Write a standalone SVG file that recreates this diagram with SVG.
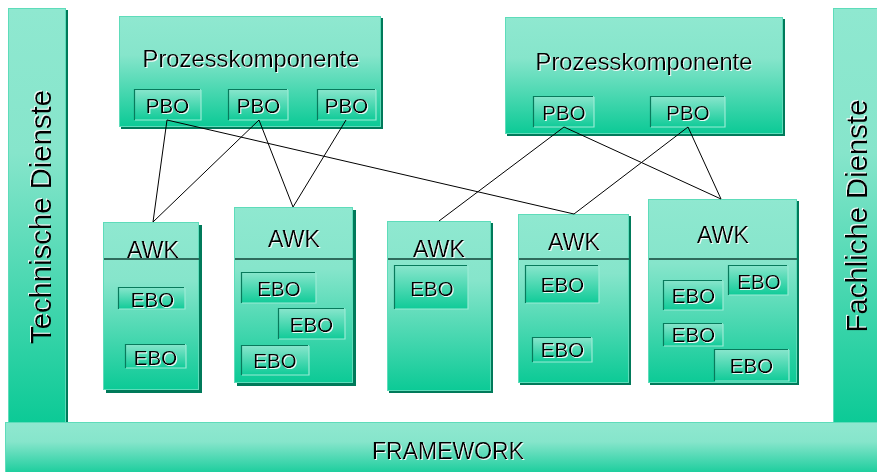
<svg xmlns="http://www.w3.org/2000/svg" width="877" height="472" viewBox="0 0 877 472">
<defs>
<linearGradient id="g" x1="0" y1="0" x2="0" y2="1">
<stop offset="0" stop-color="#8FE8D0"/>
<stop offset="0.35" stop-color="#86E5CB"/>
<stop offset="1" stop-color="#0CCA96"/>
</linearGradient>
<linearGradient id="gi" x1="0" y1="0" x2="0" y2="1">
<stop offset="0" stop-color="#8AE6CD"/>
<stop offset="1" stop-color="#10CB98"/>
</linearGradient>
<filter id="ts" x="-10%" y="-10%" width="130%" height="130%">
<feDropShadow dx="1" dy="1" stdDeviation="0" flood-color="#FFFFFF" flood-opacity="0.9"/>
</filter>
<filter id="tsr" x="-10%" y="-10%" width="130%" height="130%">
<feDropShadow dx="1" dy="-1" stdDeviation="0" flood-color="#FFFFFF" flood-opacity="0.9"/>
</filter>
</defs>
<style>
.sh{fill:#007A5A}
.box{fill:url(#g);stroke:#5EDCBA;stroke-width:1}
.in{fill:url(#gi)}
.dk{fill:none;stroke:#087A5C;stroke-width:1.2}
.lt{fill:none;stroke:#9AEBD5;stroke-width:1.2}
.div{stroke:#2E6B5C;stroke-width:2}
text{font-family:"Liberation Sans",Arial,sans-serif;fill:#000;text-anchor:middle;filter:url(#ts)}
.t1{font-size:23.8px}
.awk{font-size:23.3px}
.obj{font-size:20.5px}
.side{font-size:29.3px;filter:url(#tsr)}
.fw{font-size:23px}
.con line{stroke:#000;stroke-width:1}
</style>

<g id="technische-dienste">
<rect class="sh" x="10" y="10" width="58" height="412"/>
<rect class="box" x="8.5" y="8.5" width="57" height="414"/>
<text class="side" transform="translate(51,217) rotate(-90)">Technische Dienste</text>
</g>

<g id="fachliche-dienste">
<rect class="box" x="833.5" y="8.5" width="50" height="414"/>
<text class="side" transform="translate(867,216) rotate(-90)">Fachliche Dienste</text>
</g>

<g id="framework">
<rect class="box" x="5.5" y="422.5" width="880" height="55"/>
<text class="fw" x="448" y="459">FRAMEWORK</text>
</g>

<g id="prozesskomponente-1">
<rect class="sh" x="121" y="18" width="262" height="111"/>
<rect class="box" x="119.5" y="16.5" width="261" height="110"/>
<text class="t1" x="251" y="67">Prozesskomponente</text>
</g>
<g id="pbo-1">
<rect class="in" x="134" y="89" width="67" height="31"/>
<path class="dk" d="M134.5,120 V89.5 H200"/><path class="lt" d="M135,120 H201 V90"/>
<text class="obj" x="167.5" y="113">PBO</text>
</g>
<g id="pbo-2">
<rect class="in" x="228" y="89" width="60" height="31"/>
<path class="dk" d="M228.5,120 V89.5 H287"/><path class="lt" d="M229,120 H288 V90"/>
<text class="obj" x="258.5" y="113">PBO</text>
</g>
<g id="pbo-3">
<rect class="in" x="317" y="89" width="59" height="31"/>
<path class="dk" d="M317.5,120 V89.5 H375"/><path class="lt" d="M318,120 H376 V90"/>
<text class="obj" x="346.5" y="113">PBO</text>
</g>

<g id="prozesskomponente-2">
<rect class="sh" x="507" y="19" width="278" height="117"/>
<rect class="box" x="505.5" y="17.5" width="277" height="116"/>
<text class="t1" x="644" y="70">Prozesskomponente</text>
</g>
<g id="pbo-4">
<rect class="in" x="533" y="96" width="61" height="31"/>
<path class="dk" d="M533.5,127 V96.5 H593"/><path class="lt" d="M534,127 H594 V97"/>
<text class="obj" x="564" y="120">PBO</text>
</g>
<g id="pbo-5">
<rect class="in" x="650" y="96" width="75" height="31"/>
<path class="dk" d="M650.5,127 V96.5 H724"/><path class="lt" d="M651,127 H725 V97"/>
<text class="obj" x="688" y="120">PBO</text>
</g>

<g id="awk-1">
<rect class="sh" x="106" y="225" width="96" height="168"/>
<rect class="box" x="103.5" y="222.5" width="95" height="167"/>
<text class="awk" x="153" y="258">AWK</text>
<line class="div" x1="104" y1="259" x2="199" y2="259"/>
</g>
<g id="ebo-1a">
<rect class="in" x="118" y="287" width="67" height="22"/>
<path class="dk" d="M118.5,309 V287.5 H184"/><path class="lt" d="M119,309 H185 V288"/>
<text class="obj" x="152.5" y="307">EBO</text>
</g>
<g id="ebo-1b">
<rect class="in" x="125" y="344" width="61" height="24"/>
<path class="dk" d="M125.5,368 V344.5 H185"/><path class="lt" d="M126,368 H186 V345"/>
<text class="obj" x="155.5" y="365">EBO</text>
</g>

<g id="awk-2">
<rect class="sh" x="237" y="210" width="119" height="176"/>
<rect class="box" x="234.5" y="207.5" width="118" height="175"/>
<text class="awk" x="294" y="247">AWK</text>
<line class="div" x1="235" y1="259" x2="353" y2="259"/>
</g>
<g id="ebo-2a">
<rect class="in" x="241" y="272" width="75" height="31"/>
<path class="dk" d="M241.5,303 V272.5 H315"/><path class="lt" d="M242,303 H316 V273"/>
<text class="obj" x="279" y="296">EBO</text>
</g>
<g id="ebo-2b">
<rect class="in" x="278" y="308" width="67" height="31"/>
<path class="dk" d="M278.5,339 V308.5 H344"/><path class="lt" d="M279,339 H345 V309"/>
<text class="obj" x="311.5" y="332">EBO</text>
</g>
<g id="ebo-2c">
<rect class="in" x="241" y="345" width="68" height="30"/>
<path class="dk" d="M241.5,375 V345.5 H308"/><path class="lt" d="M242,375 H309 V346"/>
<text class="obj" x="275" y="368">EBO</text>
</g>

<g id="awk-3">
<rect class="sh" x="389" y="223" width="104" height="170"/>
<rect class="box" x="387.5" y="221.5" width="103" height="169"/>
<text class="awk" x="439" y="257">AWK</text>
<line class="div" x1="388" y1="259" x2="491" y2="259"/>
</g>
<g id="ebo-3">
<rect class="in" x="394" y="265" width="74" height="44"/>
<path class="dk" d="M394.5,309 V265.5 H467"/><path class="lt" d="M395,309 H468 V266"/>
<text class="obj" x="432" y="296">EBO</text>
</g>

<g id="awk-4">
<rect class="sh" x="520" y="216" width="111" height="169"/>
<rect class="box" x="518.5" y="214.5" width="110" height="168"/>
<text class="awk" x="574" y="250">AWK</text>
<line class="div" x1="519" y1="259" x2="629" y2="259"/>
</g>
<g id="ebo-4a">
<rect class="in" x="525" y="265" width="74" height="38"/>
<path class="dk" d="M525.5,303 V265.5 H598"/><path class="lt" d="M526,303 H599 V266"/>
<text class="obj" x="562.5" y="292">EBO</text>
</g>
<g id="ebo-4b">
<rect class="in" x="532" y="337" width="60" height="25"/>
<path class="dk" d="M532.5,362 V337.5 H591"/><path class="lt" d="M533,362 H592 V338"/>
<text class="obj" x="562.5" y="357">EBO</text>
</g>

<g id="awk-5">
<rect class="sh" x="650" y="201" width="149" height="184"/>
<rect class="box" x="648.5" y="199.5" width="148" height="183"/>
<text class="awk" x="723" y="243">AWK</text>
<line class="div" x1="649" y1="259" x2="797" y2="259"/>
</g>
<g id="ebo-5a">
<rect class="in" x="728" y="265" width="60" height="30"/>
<path class="dk" d="M728.5,295 V265.5 H787"/><path class="lt" d="M729,295 H788 V266"/>
<text class="obj" x="759" y="289">EBO</text>
</g>
<g id="ebo-5b">
<rect class="in" x="663" y="280" width="60" height="30"/>
<path class="dk" d="M663.5,310 V280.5 H722"/><path class="lt" d="M664,310 H723 V281"/>
<text class="obj" x="693.5" y="303">EBO</text>
</g>
<g id="ebo-5c">
<rect class="in" x="663" y="323" width="60" height="23"/>
<path class="dk" d="M663.5,346 V323.5 H722"/><path class="lt" d="M664,346 H723 V324"/>
<text class="obj" x="693.5" y="342">EBO</text>
</g>
<g id="ebo-5d">
<rect class="in" x="714" y="349" width="75" height="32"/>
<path class="dk" d="M714.5,381 V349.5 H788"/><path class="lt" d="M715,381 H789 V350"/>
<text class="obj" x="751.5" y="373">EBO</text>
</g>

<g id="connectors" class="con">
<line x1="167" y1="120" x2="153" y2="222"/>
<line x1="167" y1="120" x2="574" y2="214"/>
<line x1="259" y1="120" x2="153" y2="222"/>
<line x1="259" y1="120" x2="293" y2="207"/>
<line x1="346" y1="120" x2="293" y2="207"/>
<line x1="564" y1="127" x2="439" y2="221"/>
<line x1="564" y1="127" x2="721" y2="199"/>
<line x1="688" y1="127" x2="574" y2="214"/>
<line x1="688" y1="127" x2="721" y2="199"/>
</g>
</svg>
